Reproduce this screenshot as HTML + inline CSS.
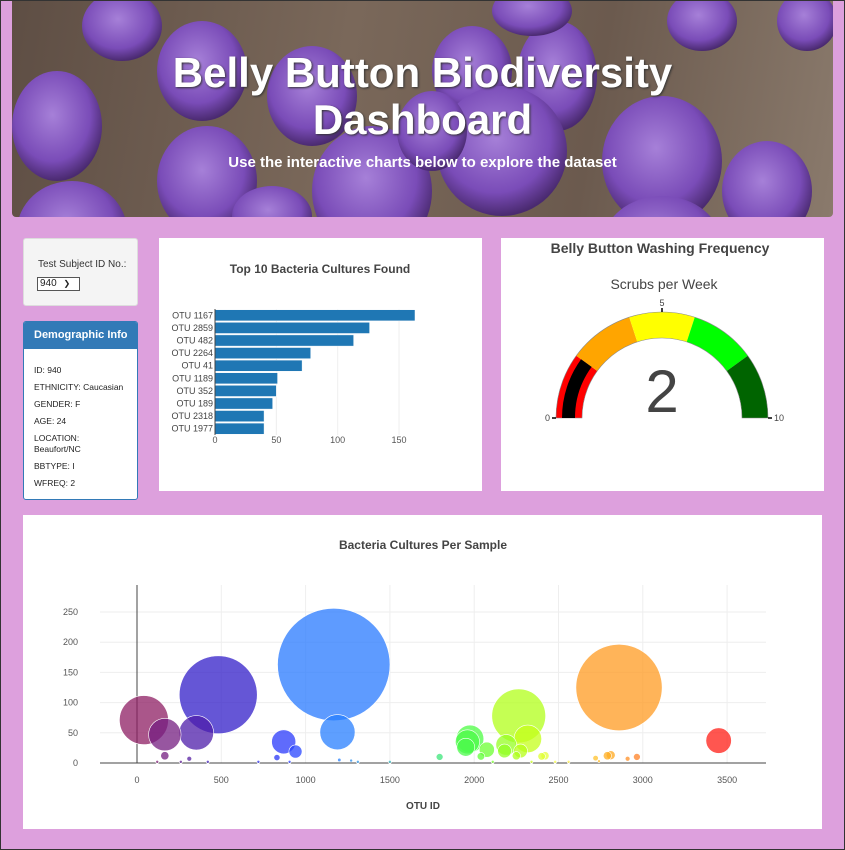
<!DOCTYPE html>
<html><head><meta charset="utf-8">
<style>
*{box-sizing:border-box;margin:0;padding:0}
body{width:845px;height:850px;background:#dda0dd;font-family:"Liberation Sans",sans-serif;position:relative;overflow:hidden;border:1px solid #333}
.abs{position:absolute}
.panel{position:absolute;background:#fff}
</style></head><body>

<div class="abs" style="left:11px;top:0;width:821px;height:216px;border-radius:0 0 4px 4px;overflow:hidden;background:linear-gradient(100deg,#5e4e44 0%,#7a685a 40%,#6b5a4e 70%,#8a7a6c 100%)">
<svg width="821" height="216" class="abs" style="left:0;top:0">
<defs><radialGradient id="pg" cx="45%" cy="40%" r="60%"><stop offset="0" stop-color="#a680d8"/><stop offset="0.7" stop-color="#7a4cb8"/><stop offset="1" stop-color="#4a2a70"/></radialGradient></defs>
<g fill="url(#pg)">
<ellipse cx="45" cy="125" rx="45" ry="55"/><ellipse cx="110" cy="25" rx="40" ry="35"/>
<ellipse cx="195" cy="180" rx="50" ry="55"/><ellipse cx="60" cy="230" rx="55" ry="50"/>
<ellipse cx="190" cy="70" rx="45" ry="50"/><ellipse cx="300" cy="95" rx="45" ry="50"/>
<ellipse cx="360" cy="190" rx="60" ry="65"/><ellipse cx="460" cy="70" rx="40" ry="45"/>
<ellipse cx="545" cy="75" rx="40" ry="55"/><ellipse cx="490" cy="150" rx="65" ry="65"/>
<ellipse cx="420" cy="130" rx="35" ry="40"/><ellipse cx="650" cy="160" rx="60" ry="65"/>
<ellipse cx="755" cy="190" rx="45" ry="50"/><ellipse cx="690" cy="20" rx="35" ry="30"/>
<ellipse cx="795" cy="20" rx="30" ry="30"/><ellipse cx="260" cy="215" rx="40" ry="30"/>
<ellipse cx="650" cy="245" rx="60" ry="50"/><ellipse cx="520" cy="10" rx="40" ry="25"/>
</g></svg>
<div class="abs" style="left:0;width:821px;top:48px;text-align:center;color:#fff;font-weight:bold;font-size:42px;line-height:47px;text-shadow:1px 1px 2px #333">Belly Button Biodiversity<br>Dashboard</div>
<div class="abs" style="left:0;width:821px;top:153px;text-align:center;color:#fff;font-weight:bold;font-size:15px">Use the interactive charts below to explore the dataset</div>
</div>

<div class="abs" style="left:22px;top:237px;width:115px;height:68px;background:#f4f4f4;border:1px solid #ddd;border-radius:3px">
<div class="abs" style="left:14px;top:20px;font-size:10px;color:#333">Test Subject ID No.:</div>
<div class="abs" style="left:13px;top:38px;width:43px;height:14px;border:1px solid #555;background:#fff;font-size:10px;line-height:12px;padding-left:2px;color:#222">940 <span style="font-size:8px;margin-left:4px">&#10095;</span></div>
</div>

<div class="abs" style="left:22px;top:320px;width:115px;height:179px;background:#fff;border:1px solid #337ab7;border-radius:3px;overflow:hidden">
<div style="background:#337ab7;color:#fff;font-weight:bold;font-size:11px;height:27px;line-height:26px;padding-left:10px">Demographic Info</div>
<div style="font-size:8.5px;color:#222;padding:16px 10px;line-height:11px">
<div style="margin-bottom:6px">ID: 940</div><div style="margin-bottom:6px">ETHNICITY: Caucasian</div><div style="margin-bottom:6px">GENDER: F</div><div style="margin-bottom:6px">AGE: 24</div><div style="margin-bottom:6px">LOCATION:<br>Beaufort/NC</div><div style="margin-bottom:6px">BBTYPE: I</div><div>WFREQ: 2</div>
</div></div>

<div class="panel" style="left:158px;top:237px;width:323px;height:253px">
<svg id="bar" width="323" height="253" style="font-family:'Liberation Sans',sans-serif"></svg></div>

<div class="panel" style="left:500px;top:237px;width:323px;height:253px">
<svg id="gauge" width="323" height="253" style="font-family:'Liberation Sans',sans-serif"></svg></div>

<div class="panel" style="left:22px;top:514px;width:799px;height:314px">
<svg id="bubble" width="799" height="314" style="font-family:'Liberation Sans',sans-serif"></svg></div>

<script>
const NS="http://www.w3.org/2000/svg";
function mk(p,t,a,txt){const e=document.createElementNS(NS,t);for(const k in a)e.setAttribute(k,a[k]);if(txt!==undefined)e.textContent=txt;p.appendChild(e);return e;}

// ---- bar chart data ----
const barLabels=["OTU 1167","OTU 2859","OTU 482","OTU 2264","OTU 41","OTU 1189","OTU 352","OTU 189","OTU 2318","OTU 1977"];
const barValues=[163,126,113,78,71,51,50,47,40,40];
const barTicks=[0,50,100,150];

// ---- gauge data ----
const gaugeValue=2;
const gaugeSteps=[0,2,4,6,8,10];
const gaugeColors=["red","orange","yellow","lime","darkgreen"];

// ---- bubble data ----
const bubbleIds=[41,165,352,482,1167,1189,870,940,165,310,830,905,1795,1975,1960,1950,2075,2040,2190,2180,2264,2318,2275,2250,2400,2420,2859,2790,2810,3450,2720,2910,2965,120,260,420,720,1200,1270,1310,1500,2110,2340,2480,2560,2740];
const bubbleValues=[71,47,50,113,163,51,35,19,12,7,9,2,10,40,35,26,22,11,30,20,78,40,20,12,11,12,125,12,13,37,8,7,10,2,2,2,2,5,4,2,2,2,2,2,2,3];
const xTicks=[0,500,1000,1500,2000,2500,3000,3500];
const yTicks=[0,50,100,150,200,250];

// Bar chart
(function(){
 const s=document.getElementById('bar');
 mk(s,'text',{x:161,y:35,'text-anchor':'middle','font-size':12,'font-weight':'bold',fill:'#444'},'Top 10 Bacteria Cultures Found');
 const x0=56,sc=1.227,top=71,step=12.6;
 const X=v=>x0+v*sc;
 barTicks.forEach(t=>{
  if(t>0){const g=mk(s,'line',{x1:X(t),x2:X(t),y1:top,y2:top+step*10,stroke:'#eee'});}
  const l=mk(s,'text',{x:X(t),y:205,'text-anchor':'middle','font-size':9,fill:'#555'},t);
  
  
 });
 barValues.forEach((v,i)=>{
  const r=mk(s,'rect',{x:x0,y:top+i*step+0.7,width:v*sc,height:step-1.4,fill:'#1f77b4',stroke:'#fff','stroke-width':0.5});
  
  
  const l=mk(s,'text',{x:x0-2,y:top+i*step+step/2+3,'text-anchor':'end','font-size':9,fill:'#444'},barLabels[i]);
  
  
 });
 mk(s,'line',{x1:x0,x2:x0,y1:top,y2:top+step*10,stroke:'#444'});
})();

// Gauge
(function(){
 const s=document.getElementById('gauge');
 mk(s,'text',{x:159,y:15,'text-anchor':'middle','font-size':14,'font-weight':'bold',fill:'#444'},'Belly Button Washing Frequency');
 mk(s,'text',{x:163,y:51,'text-anchor':'middle','font-size':14,fill:'#444'},'Scrubs per Week');
 const cx=161,cy=180,R=106,r=80;
 const ang=v=>Math.PI*(1-v/10);
 function arc(a,b,ro,ri){const a1=ang(a),a2=ang(b);
  const p=(rr,t)=>[cx+rr*Math.cos(t),cy-rr*Math.sin(t)];
  const [x1,y1]=p(ro,a1),[x2,y2]=p(ro,a2),[x3,y3]=p(ri,a2),[x4,y4]=p(ri,a1);
  return `M${x1},${y1}A${ro},${ro} 0 0 1 ${x2},${y2}L${x3},${y3}A${ri},${ri} 0 0 0 ${x4},${y4}Z`;}
 gaugeColors.forEach((c,i)=>{
  const p=mk(s,'path',{d:arc(gaugeSteps[i],gaugeSteps[i+1],R,r),fill:c});
  
  
 });
 mk(s,'path',{d:arc(0,10,R,r),fill:'none',stroke:'#888','stroke-width':0.6});
 const b=mk(s,'path',{d:arc(0,gaugeValue,R-6,r+7),fill:'#000'});
 
 
 mk(s,'text',{x:cx,y:cy-6,'text-anchor':'middle','font-size':60,fill:'#444'},gaugeValue);
 mk(s,'line',{x1:cx,x2:cx,y1:cy-R-4,y2:cy-R,stroke:'#000','stroke-width':1.5});
 mk(s,'text',{x:cx,y:cy-R-6,'text-anchor':'middle','font-size':9,fill:'#444'},'5');
 mk(s,'line',{x1:cx-R-4,x2:cx-R,y1:cy,y2:cy,stroke:'#000','stroke-width':1.5});
 mk(s,'text',{x:cx-R-6,y:cy+3,'text-anchor':'end','font-size':9,fill:'#444'},'0');
 mk(s,'line',{x1:cx+R,x2:cx+R+4,y1:cy,y2:cy,stroke:'#000','stroke-width':1.5});
 mk(s,'text',{x:cx+R+6,y:cy+3,'font-size':9,fill:'#444'},'10');
})();

// Bubble
(function(){
 const s=document.getElementById('bubble');
 mk(s,'text',{x:400,y:34,'text-anchor':'middle','font-size':12,'font-weight':'bold',fill:'#444'},'Bacteria Cultures Per Sample');
 const X=v=>114+v*0.1686, Y=v=>248-v*0.604;
 const L=77,Rr=743,T=70;
 xTicks.forEach(t=>{
  if(t>0)mk(s,'line',{x1:X(t),x2:X(t),y1:T,y2:Y(0),stroke:'#eee'});
  const l=mk(s,'text',{x:X(t),y:Y(0)+20,'text-anchor':'middle','font-size':9,fill:'#555'},t);
  
  
 });
 yTicks.forEach(t=>{
  if(t>0)mk(s,'line',{x1:L,x2:Rr,y1:Y(t),y2:Y(t),stroke:'#eee'});
  const l=mk(s,'text',{x:55,y:Y(t)+3,'text-anchor':'end','font-size':9,fill:'#555'},t);
  
  
 });
 mk(s,'line',{x1:X(0),x2:X(0),y1:T,y2:Y(0),stroke:'#444'});
 mk(s,'line',{x1:L,x2:Rr,y1:Y(0),y2:Y(0),stroke:'#444'});
 const stops=[[0,[150,30,90]],[482,[50,30,200]],[900,[40,60,255]],[1200,[40,130,255]],[1800,[60,230,120]],[2000,[80,255,60]],[2300,[190,255,20]],[2500,[255,255,80]],[2800,[255,170,30]],[3000,[255,120,40]],[3500,[255,20,20]]];
 function col(v){for(let i=0;i<stops.length-1;i++){const [a,ca]=stops[i],[b,cb]=stops[i+1];if(v<=b){const f=(v-a)/(b-a);return 'rgb('+ca.map((c,k)=>Math.round(c+(cb[k]-c)*f)).join(',')+')';}}return 'rgb(255,20,20)';}
 const idx=bubbleValues.map((v,i)=>i).sort((a,b)=>bubbleValues[b]-bubbleValues[a]);
 idx.forEach(i=>{
  const c=mk(s,'circle',{cx:X(bubbleIds[i]),cy:Y(bubbleValues[i]),r:Math.max(1.5,bubbleValues[i]*0.345),fill:col(bubbleIds[i]),'fill-opacity':0.75,stroke:'#fff','stroke-width':0.6});
  
  
 });
 mk(s,'text',{x:400,y:294,'text-anchor':'middle','font-size':10,'font-weight':'bold',fill:'#444'},'OTU ID');
})();
</script>
</body></html>
